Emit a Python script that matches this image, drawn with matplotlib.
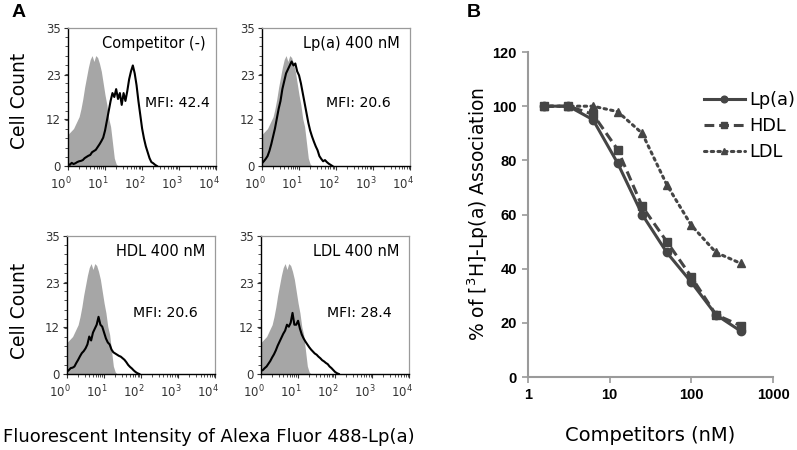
"""Flow cytometry histograms (A) and competition binding curves (B)."""

import matplotlib
matplotlib.use("Agg")
import matplotlib.pyplot as plt
import numpy as np
from matplotlib.ticker import FixedLocator, LogLocator, NullFormatter
from matplotlib.transforms import ScaledTranslation

# ---- panel A: histograms, channel position in decades (log10 intensity) ----
GRID_LOG = [0.00, 0.05, 0.10, 0.15, 0.20, 0.25, 0.30, 0.35, 0.40, 0.45,
            0.50, 0.55, 0.60, 0.65, 0.70, 0.75, 0.80, 0.85, 0.90, 0.95,
            1.00, 1.05, 1.10, 1.15, 1.20, 1.25, 1.30, 1.35, 1.40, 1.45,
            1.50, 1.55, 1.60, 1.65, 1.70, 1.75, 1.80, 1.85, 1.90, 1.95,
            2.00, 2.05, 2.10, 2.15, 2.20, 2.25, 2.30, 2.35, 2.40]

# unstained / control cells (grey filled)
CONTROL = [8, 8.5, 9, 9.5, 10.5, 11.5, 12.5, 14.5, 17, 20,
           22.5, 25, 27, 28, 26.5, 28, 27.5, 26, 24, 21,
           18, 15.5, 12, 10, 6, 2, 0.5, 0]

NO_COMPETITOR = [0.5, 0.3, 0.8, 0.5, 0.7, 1.0, 1.2, 1.3, 1.5, 2.0,
                 2.3, 2.6, 2.8, 3.5, 3.8, 4.1, 4.8, 5.5, 6.3, 7.2,
                 9.0, 11.5, 14.0, 16.5, 18.5, 17.5, 19.5, 17.0, 18.5, 15.5,
                 18.5, 16.5, 19.0, 22.0, 24.0, 25.5, 23.5, 20.5, 16.5, 13.0,
                 9.5, 7.0, 5.0, 3.5, 2.0, 1.0, 0.7, 0.3, 0]

LPA_400 = [0.7, 1.2, 1.8, 2.5, 3.8, 5.5, 7.5, 9.5, 12, 14.5,
           16.5, 19.5, 21.5, 23.5, 24.5, 25.5, 26.5, 25.5, 26, 24,
           23, 21, 18.5, 16, 13.5, 11, 9, 7.5, 6.2, 5,
           4, 2.5, 1.8, 1.2, 1.5, 1.0, 0.6, 0.3, 0]

HDL_400 = [0.6, 1.0, 1.5, 1.6, 1.9, 2.8, 3.6, 4.5, 5.3, 5.8,
           6.5, 7.5, 9.5, 8.5, 10.5, 11.5, 12.5, 14.5, 12.5, 12,
           10.5, 9, 8, 7.5, 6.2, 5.5, 5.2, 4.9, 4.6, 4.4,
           4.0, 3.6, 3.0, 2.3, 1.8, 1.4, 0.9, 0.5, 0.2, 0]

LDL_400 = [0.8, 1.0, 1.5, 1.9, 2.6, 3.3, 4.2, 5.0, 6.0, 7.2,
           8.2, 9.2, 10.2, 11.0, 12.5, 12.0, 13.0, 15.5, 12.5, 12.5,
           13.5, 11.5, 10.0, 9.0, 8.2, 7.5, 6.8, 6.2, 5.7, 5.2,
           4.9, 4.4, 4.0, 3.5, 3.2, 2.8, 2.5, 1.9, 1.5, 1.0,
           0.5, 0.2, 0]

PANEL_TITLES = ["Competitor (-)", "Lp(a) 400 nM", "HDL 400 nM", "LDL 400 nM"]
PANEL_MFI = ["MFI: 42.4", "MFI: 20.6", "MFI: 20.6", "MFI: 28.4"]
PANEL_SAMPLES = [NO_COMPETITOR, LPA_400, HDL_400, LDL_400]
COUNT_TICKS = [0, 12, 23, 35]

# ---- panel B: competition curves ----
COMPETITOR_NM = [1.5625, 3.125, 6.25, 12.5, 25, 50, 100, 200, 400]
ASSOC_LPA = [100, 100, 95, 79, 60, 46, 35, 23, 17]
ASSOC_HDL = [100, 100, 97, 84, 63, 50, 37, 23, 19]
ASSOC_LDL = [100, 100, 100, 98, 90, 71, 56, 46, 42]

GREY_FILL = "#a6a6a6"
LINE_GREY = "#454545"
SPINE_GREY = "#9a9a9a"

plt.rcParams["font.family"] = ["DejaVu Sans"]

fig = plt.figure(figsize=(7.97, 4.5), dpi=100)

# axes rectangles (figure fraction) and text placement per histogram
hist_rects = [
    (0.0853, 0.6311, 0.186, 0.3067),
    (0.3287, 0.6311, 0.186, 0.3067),
    (0.0841, 0.1689, 0.186, 0.3067),
    (0.3275, 0.1689, 0.186, 0.3067),
]
mfi_pos = [(0.52, 0.457), (0.43, 0.457), (0.446, 0.44), (0.446, 0.44)]

label_shift = ScaledTranslation(-5 / 72, 0, fig.dpi_scale_trans)

for rect, title, mfi, sample, mpos in zip(hist_rects, PANEL_TITLES, PANEL_MFI,
                                          PANEL_SAMPLES, mfi_pos):
    ax = fig.add_axes(rect)
    ctrl_x = 10 ** np.array(GRID_LOG[:len(CONTROL)])
    samp_x = 10 ** np.array(GRID_LOG[:len(sample)])
    ax.fill_between(ctrl_x, CONTROL, color=GREY_FILL, lw=0)
    ax.plot(samp_x, sample, color="black", lw=1.5)
    ax.set_xscale("log")
    ax.set_xlim(1, 1e4)
    ax.set_ylim(0, 35)
    ax.set_yticks(COUNT_TICKS)
    ax.yaxis.set_minor_locator(FixedLocator(np.linspace(0, 35, 16)))
    ax.xaxis.set_major_locator(LogLocator(base=10, numticks=6))
    ax.xaxis.set_minor_locator(LogLocator(base=10, subs=np.arange(2, 10), numticks=12))
    ax.xaxis.set_minor_formatter(NullFormatter())
    ax.tick_params(which="major", length=3, width=0.8, labelsize=8.5,
                   colors="#333333", pad=2)
    ax.tick_params(axis="x", which="major", pad=4)
    ax.tick_params(which="minor", length=2, width=0.6, colors="#333333")
    for lab in ax.get_xticklabels():
        lab.set_transform(lab.get_transform() + label_shift)
    for side in ("top", "right"):
        ax.spines[side].set_color(SPINE_GREY)
        ax.spines[side].set_linewidth(0.9)
    for side in ("left", "bottom"):
        ax.spines[side].set_linewidth(1.0)
    ax.text(0.93, 0.89, title, transform=ax.transAxes, ha="right", va="center",
            fontsize=10.5)
    ax.text(mpos[0], mpos[1], mfi, transform=ax.transAxes, ha="left", va="center",
            fontsize=10.2)

fig.text(0.024, 0.775, "Cell Count", rotation=90, ha="center", va="center", fontsize=13.5)
fig.text(0.024, 0.31, "Cell Count", rotation=90, ha="center", va="center", fontsize=13.5)
fig.text(0.262, 0.028, "Fluorescent Intensity of Alexa Fluor 488-Lp(a)",
         ha="center", va="center", fontsize=13)

# ---- panel B ----
axb = fig.add_axes((0.6625, 0.1622, 0.3074, 0.7222))
axb.plot(COMPETITOR_NM, ASSOC_LPA, color=LINE_GREY, lw=2.2, ls="-",
         marker="o", ms=6, label="Lp(a)")
axb.plot(COMPETITOR_NM, ASSOC_HDL, color=LINE_GREY, lw=2.2, ls=(0, (3.2, 1.6)),
         marker="s", ms=5.5, label="HDL")
axb.plot(COMPETITOR_NM, ASSOC_LDL, color=LINE_GREY, lw=2.2, ls=(0, (0.8, 1.4)),
         dash_capstyle="round", marker="^", ms=6, label="LDL")
axb.set_xscale("log")
axb.set_xlim(1, 1000)
axb.set_ylim(0, 120)
axb.set_xticks([1, 10, 100, 1000])
axb.set_xticklabels(["1", "10", "100", "1000"])
axb.set_yticks([0, 20, 40, 60, 80, 100, 120])
axb.xaxis.set_minor_locator(FixedLocator([]))
for side in ("top", "right"):
    axb.spines[side].set_visible(False)
for side in ("left", "bottom"):
    axb.spines[side].set_color(SPINE_GREY)
    axb.spines[side].set_linewidth(1.5)
axb.tick_params(length=4, width=1.2, color=SPINE_GREY, pad=4)
for lab in axb.get_xticklabels() + axb.get_yticklabels():
    lab.set_fontfamily("Liberation Sans")
    lab.set_fontweight("bold")
    lab.set_fontsize(10.5)
axb.set_xlabel("Competitors (nM)", fontsize=14, labelpad=17)
axb.set_ylabel("% of [$^3$H]-Lp(a) Association", fontsize=13.5, labelpad=1)
axb.legend(loc="upper left", bbox_to_anchor=(0.872, 0.818), bbox_transform=fig.transFigure,
           frameon=False, fontsize=12.8, handlelength=2.3, handletextpad=0.25,
           labelspacing=0.45, borderpad=0, markerscale=0.8)

fig.text(0.023, 0.972, "A", fontfamily="Liberation Sans", fontweight="bold",
         fontsize=14, ha="center", va="center")
fig.text(0.594, 0.972, "B", fontfamily="Liberation Sans", fontweight="bold",
         fontsize=14, ha="center", va="center")

fig.savefig("out.png", dpi=100)
